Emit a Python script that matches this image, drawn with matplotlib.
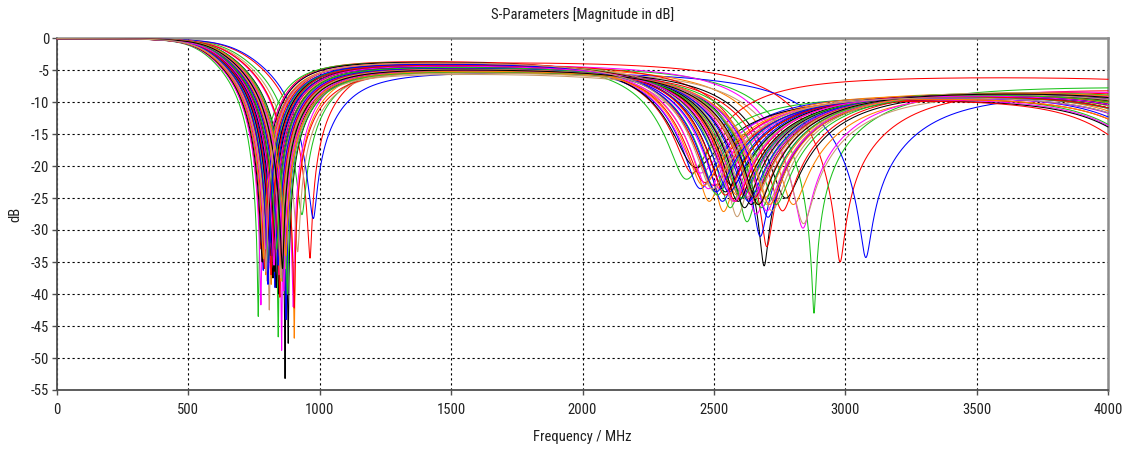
import numpy as np
import matplotlib
matplotlib.use("Agg")
import matplotlib.pyplot as plt
from matplotlib import font_manager as fm

# ---------------- data ----------------
# colour order of the curves: red, green, blue, orange, magenta, black, tan (repeating)
notch1_mhz = [963, 932, 975, 903, 899, 868, 916,
              870, 842, 855, 815, 855, 880, 808,
              777, 766, 785, 795, 776, 781, 800,
              903, 820, 830, 835, 812, 845, 825,
              800, 850, 810, 860, 838, 822, 865,
              790, 858, 872, 828, 845, 812, 840,
              848, 805, 818, 852, 792, 835, 870,
              828, 877, 842, 786, 863, 826, 852,
              815, 836, 803, 870, 826, 858, 795]
notch1_db = [-34.4, -27.6, -28.2, -46.9, -42.0, -53.2, -33.4,
             -33.0, -46.7, -37.0, -38.5, -48.8, -47.7, -42.5,
             -33.0, -43.5, -36.3, -37.0, -41.7, -35.0, -38.0,
             -42.2, -34.0, -39.0, -33.0, -36.0, -40.0, -31.0,
             -30.0, -36.0, -32.0, -35.5, -33.5, -37.5, -30.5,
             -36.0, -38.0, -44.0, -36.5, -37.0, -34.0, -35.0,
             -40.5, -35.0, -34.0, -38.0, -33.0, -39.0, -36.0,
             -32.5, -40.0, -35.5, -34.5, -39.5, -36.5, -37.5,
             -37.0, -33.0, -38.5, -34.0, -35.5, -36.0, -36.5]
notch2_mhz = [2980, 2881, 3078, 2800, 2838, 2691, 2840,
              2701, 2625, 2676, 2535, 2660, 2771, 2587,
              2416, 2390, 2445, 2480, 2440, 2422, 2500,
              2760, 2560, 2600, 2585, 2520, 2640, 2570,
              2495, 2655, 2530, 2690, 2610, 2565, 2700,
              2460, 2680, 2705, 2595, 2640, 2540, 2620,
              2650, 2510, 2555, 2665, 2475, 2615, 2720,
              2580, 2735, 2630, 2455, 2700, 2590, 2655,
              2540, 2605, 2505, 2710, 2575, 2668, 2490]
notch2_db = [-35.0, -43.0, -34.3, -26.0, -29.7, -35.6, -29.0,
             -32.6, -28.7, -31.0, -27.1, -27.5, -25.0, -27.9,
             -21.1, -22.0, -23.5, -25.5, -21.0, -20.1, -24.0,
             -27.0, -26.5, -25.0, -24.5, -23.5, -26.0, -25.5,
             -23.0, -24.0, -25.5, -25.0, -24.5, -23.0, -26.0,
             -22.5, -26.5, -28.0, -24.5, -25.5, -24.0, -25.0,
             -25.0, -24.5, -24.0, -26.0, -23.5, -26.5, -27.0,
             -25.5, -26.0, -25.5, -23.0, -27.0, -25.5, -25.0,
             -24.5, -25.0, -24.0, -26.0, -25.5, -26.0, -23.5]
mid_level_db = [-3.2, -3.9, -4.8, -4.0, -3.6, -4.3, -4.5,
                -3.5, -4.2, -4.0, -3.3, -3.8, -4.4, -3.4,
                -3.0, -3.1, -3.4, -3.6, -3.2, -3.1, -3.8,
                -4.6, -3.4, -4.1, -3.7, -3.5, -4.3, -3.9,
                -3.2, -4.4, -3.6, -4.7, -3.9, -3.6, -5.0,
                -3.3, -4.2, -4.5, -3.7, -4.0, -3.4, -3.9,
                -4.1, -3.5, -3.8, -4.3, -3.3, -3.9, -4.8,
                -3.6, -4.6, -4.0, -3.3, -4.4, -3.7, -4.2,
                -3.5, -3.9, -3.4, -4.5, -3.7, -4.3, -3.2]
high_level_db = [-7.2, -7.0, -7.7, -7.8, -7.4, -8.0, -7.9,
                 -7.6, -8.1, -7.8, -8.2, -7.9, -7.7, -8.1,
                 -5.6, -8.4, -8.2, -8.0, -8.6, -8.8, -8.1,
                 -7.5, -8.1, -7.9, -7.7, -8.2, -7.8, -8.0,
                 -8.5, -7.6, -8.1, -7.6, -7.9, -8.0, -7.5,
                 -8.7, -7.7, -7.6, -8.0, -7.8, -8.1, -7.9,
                 -7.8, -8.2, -8.0, -7.7, -8.4, -7.8, -7.6,
                 -7.9, -7.6, -7.8, -8.5, -7.7, -8.0, -7.8,
                 -8.1, -7.9, -8.3, -7.6, -8.0, -7.7, -8.3]
tail_mhz = [5000, 5200, 4700, 4700, 4800, 4500, 4800,
            4550, 4450, 4500, 4400, 4450, 4650, 4400,
            4800, 4200, 4250, 4300, 4200, 4200, 4350,
            4700, 4400, 4450, 4450, 4350, 4500, 4400,
            4250, 4550, 4350, 4600, 4450, 4400, 4600,
            4150, 4550, 4600, 4450, 4500, 4350, 4500,
            4500, 4350, 4400, 4550, 4300, 4450, 4600,
            4450, 4650, 4500, 4250, 4600, 4400, 4500,
            4350, 4450, 4300, 4600, 4400, 4550, 4300]

x_ticks = [0, 500, 1000, 1500, 2000, 2500, 3000, 3500, 4000]
y_ticks = [0, -5, -10, -15, -20, -25, -30, -35, -40, -45, -50, -55]
title_text = "S-Parameters [Magnitude in dB]"
xlabel_text = "Frequency / MHz"
ylabel_text = "dB"

# ---------------- style ----------------
palette = ['#ff0000', '#1cc21c', '#0000ff', '#ff8000', '#ff00ff', '#000000', '#c89b6e']


def pick_font():
    entries = fm.fontManager.ttflist
    prefs = ['Liberation Sans Narrow', 'Roboto Condensed', 'Open Sans Condensed',
             'Noto Sans Condensed', 'DejaVu Sans Condensed']
    for name in prefs:
        for e in entries:
            if e.name == name and e.style == 'normal' and e.weight in (400, 'normal', 'regular'):
                return e.fname, True
    for e in entries:
        if e.name in ('DejaVu Sans', 'Noto Sans', 'Open Sans') and e.stretch in ('condensed', 'semi-condensed') \
                and e.style == 'normal' and e.weight in (400, 'normal', 'regular'):
            return e.fname, True
    return fm.findfont('DejaVu Sans'), False


font_path, narrow = pick_font()
fsize = 10.5 if narrow else 8.5


def fp():
    return fm.FontProperties(fname=font_path, size=fsize)


# ---------------- resonance model used to draw each curve ----------------
freq = np.linspace(0, 4000, 8001)


def sig(z):
    return 1.0 / (1.0 + np.exp(-np.clip(z, -60, 60)))


def parts(f, f1, f2, l1, l2, f3):
    f = np.asarray(f, dtype=float)
    bg = l1 * sig((f - f1) / 30.0) + (l2 - l1) * sig((f - f2) / 60.0)
    d = f - f1
    x = np.where(d < 0, d / (0.28 * f1), d / (0.2 * f1))
    s1 = 1.0 / (1.0 + x ** 2 + np.where(d < 0, (np.abs(x) / 1.07) ** 6, 0.0))
    d = f - f2
    x = np.where(d < 0, d / (0.13 * f2), d / (0.13 * f2))
    s2 = 1.0 / (1.0 + x ** 2)
    x3 = (f - f3) / 350.0
    p3 = 0.9 / (1.0 + x3 ** 2)
    return bg, s1, s2, p3


def s11(f1, d1, f2, d2, l1, l2, f3):
    # depth factors chosen so that the curve reaches the read minimum at each notch
    bg, s1, s2, p3 = parts(np.array([f1, f2]), f1, f2, l1, l2, f3)
    a1, a2 = 0.0, 0.0
    for _ in range(5):
        rest1 = bg[0] + 10 * np.log10(1 - a2 * s2[0]) + 10 * np.log10(1 - p3[0])
        a1 = 1 - 10 ** ((d1 - rest1) / 10)
        rest2 = bg[1] + 10 * np.log10(1 - a1 * s1[1]) + 10 * np.log10(1 - p3[1])
        a2 = 1 - 10 ** ((d2 - rest2) / 10)
    bg, s1, s2, p3 = parts(freq, f1, f2, l1, l2, f3)
    return bg + 10 * np.log10(1 - a1 * s1) + 10 * np.log10(1 - a2 * s2) + 10 * np.log10(1 - p3)


# ---------------- figure ----------------
W, H = 1133, 451
fig = plt.figure(figsize=(W / 100, H / 100), dpi=100)
L, R, T, B = 57, 1108, 38, 390
ax = fig.add_axes([L / W, 1 - B / H, (R - L) / W, (B - T) / H])

for i in range(len(notch1_mhz)):
    y = s11(notch1_mhz[i], notch1_db[i], notch2_mhz[i], notch2_db[i],
            mid_level_db[i], high_level_db[i], tail_mhz[i])
    ax.plot(freq, y, color=palette[i % len(palette)], lw=0.75, zorder=3, clip_on=False)

ax.set_xlim(0, 4000)
ax.set_ylim(-55, 0)
ax.set_xticks(x_ticks)
ax.set_yticks(y_ticks)
ax.set_xticklabels([str(v) for v in x_ticks], fontproperties=fp())
ax.set_yticklabels([str(v) for v in y_ticks], fontproperties=fp())
ax.grid(True, color='black', linestyle=(0, (2, 2.5)), linewidth=0.8, zorder=1)
ax.set_axisbelow(True)
ax.tick_params(axis='x', direction='out', length=3.5, width=1, color='#505050', pad=6, labelcolor='#202020')
ax.tick_params(axis='y', direction='out', length=3.5, width=1, color='#505050', pad=2, labelcolor='#202020')
for side in ('top', 'right'):
    ax.spines[side].set_color('#8c8c8c')
    ax.spines[side].set_linewidth(1.8)
for side in ('left', 'bottom'):
    ax.spines[side].set_color('#505050')
    ax.spines[side].set_linewidth(1.3)
for sp in ax.spines.values():
    sp.set_zorder(2.5)

fig.text((L + R) / 2 / W, 1 - 15 / H, title_text, ha='center', va='center', fontproperties=fp(), color='#202020')
fig.text((L + R) / 2 / W, 1 - 437 / H, xlabel_text, ha='center', va='center', fontproperties=fp(), color='#202020')
fig.text(15 / W, 1 - 214 / H, ylabel_text, ha='center', va='center', rotation=90, fontproperties=fp(), color='#202020')

fig.savefig('out.png', dpi=100)
